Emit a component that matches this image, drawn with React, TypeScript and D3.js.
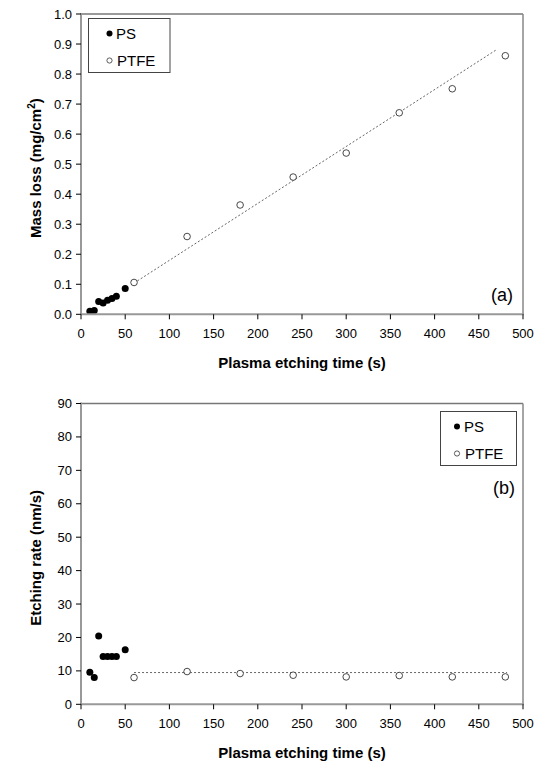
import React from "react";
import * as d3 from "d3";

const psTime = [10, 15, 20, 25, 30, 35, 40, 50];
const psMass = [0.010, 0.0125, 0.043, 0.038, 0.047, 0.053, 0.060, 0.086];
const psRate = [9.6, 8.0, 20.4, 14.3, 14.3, 14.3, 14.3, 16.3];

const ptfeTime = [60, 120, 180, 240, 300, 360, 420, 480];
const ptfeMass = [0.106, 0.259, 0.364, 0.457, 0.537, 0.671, 0.751, 0.861];
const ptfeRate = [8.0, 9.8, 9.2, 8.7, 8.2, 8.6, 8.2, 8.2];

const massFitTime = [60, 470];
const massFitValue = [0.104, 0.881];
const rateFitTime = [60, 482];
const rateFitValue = [9.5, 9.5];

const xTicks = d3.range(0, 501, 50);
const massTicks = d3.range(0, 11).map((i) => i / 10);
const rateTicks = d3.range(0, 91, 10);

const FONT = "'Liberation Sans', Arial, sans-serif";

type PanelProps = {
  top: number;
  bottom: number;
  yDomain: [number, number];
  yTicks: number[];
  yFormat: (v: number) => string;
  psY: number[];
  ptfeY: number[];
  fitX: number[];
  fitY: number[];
  yTitle: React.ReactNode;
  label: string;
  labelX: number;
  labelY: number;
  legend: { x: number; y: number; w: number; h: number; mx: number; tx: number };
};

const x = d3.scaleLinear().domain([0, 500]).range([81, 523]);

function Panel(p: PanelProps) {
  const y = d3.scaleLinear().domain(p.yDomain).range([p.bottom, p.top]);
  const line = d3
    .line<number>()
    .x((_, i) => x(p.fitX[i]))
    .y((d) => y(d));
  const [x0, x1] = x.range();
  const lg = p.legend;
  return (
    <g>
      <line x1={x0} x2={x1} y1={p.top} y2={p.top} stroke="#777" strokeWidth={1.3} />
      <line x1={x1} x2={x1} y1={p.top} y2={p.bottom} stroke="#888" strokeWidth={1.5} />
      <path d={line(p.fitY) || ""} fill="none" stroke="#666" strokeWidth={1} strokeDasharray="2,2" />
      {psTime.map((t, i) => (
        <circle key={"ps" + i} cx={x(t)} cy={y(p.psY[i])} r={3.5} fill="#000" />
      ))}
      {ptfeTime.map((t, i) => (
        <circle key={"pt" + i} cx={x(t)} cy={y(p.ptfeY[i])} r={3.3} fill="#fff" stroke="#333" strokeWidth={0.9} />
      ))}
      <line x1={x0} x2={x0} y1={p.top - 1} y2={p.bottom} stroke="#999" strokeWidth={2} />
      <line x1={x0} x2={x1 + 1} y1={p.bottom} y2={p.bottom} stroke="#999" strokeWidth={2} />
      {p.yTicks.map((t) => (
        <g key={"yt" + t}>
          <line x1={x0 - 5} x2={x0} y1={y(t)} y2={y(t)} stroke="#000" strokeWidth={1} />
          <text x={x0 - 9} y={y(t)} dy="0.35em" textAnchor="end" fontSize={13} fontFamily={FONT}>
            {p.yFormat(t)}
          </text>
        </g>
      ))}
      {xTicks.map((t) => (
        <g key={"xt" + t}>
          <line x1={x(t)} x2={x(t)} y1={p.bottom} y2={p.bottom + 5} stroke="#000" strokeWidth={1} />
          <text x={x(t)} y={p.bottom + 23.5} textAnchor="middle" fontSize={13} fontFamily={FONT}>
            {t}
          </text>
        </g>
      ))}
      <text
        x={(x0 + x1) / 2}
        y={p.bottom + 54}
        textAnchor="middle"
        fontSize={15}
        fontWeight="bold"
        fontFamily={FONT}
      >
        Plasma etching time (s)
      </text>
      <text
        transform={`translate(41,${(p.top + p.bottom) / 2 + 4}) rotate(-90)`}
        textAnchor="middle"
        fontSize={15}
        fontWeight="bold"
        fontFamily={FONT}
      >
        {p.yTitle}
      </text>
      <text x={p.labelX} y={p.labelY} textAnchor="end" fontSize={18} fontFamily={FONT}>
        {p.label}
      </text>
      <rect x={lg.x} y={lg.y} width={lg.w} height={lg.h} fill="#fff" stroke="#444" strokeWidth={1} />
      <circle cx={lg.mx} cy={lg.y + 15} r={3} fill="#000" />
      <text x={lg.tx - 1} y={lg.y + 15} dy="0.36em" fontSize={15} fontFamily={FONT}>
        PS
      </text>
      <circle cx={lg.mx} cy={lg.y + 42} r={2.6} fill="#fff" stroke="#333" strokeWidth={0.8} />
      <text x={lg.tx} y={lg.y + 42} dy="0.36em" fontSize={15} fontFamily={FONT}>
        PTFE
      </text>
    </g>
  );
}

export default function App() {
  return (
    <svg
      width={546}
      height={762}
      style={{ position: "absolute", left: 0, top: 0, background: "#fff" }}
    >
      <rect width={546} height={762} fill="#fff" />
      <Panel
        top={14}
        bottom={314.3}
        yDomain={[0, 1]}
        yTicks={massTicks}
        yFormat={d3.format(".1f")}
        psY={psMass}
        ptfeY={ptfeMass}
        fitX={massFitTime}
        fitY={massFitValue}
        yTitle={
          <>
            Mass loss (mg/cm
            <tspan fontSize={10} dy={-6}>
              2
            </tspan>
            <tspan dy={6}>)</tspan>
          </>
        }
        label="(a)"
        labelX={513}
        labelY={301}
        legend={{ x: 88.5, y: 18.5, w: 81.5, h: 54, mx: 109.5, tx: 117 }}
      />
      <Panel
        top={403.5}
        bottom={704.3}
        yDomain={[0, 90]}
        yTicks={rateTicks}
        yFormat={d3.format("d")}
        psY={psRate}
        ptfeY={ptfeRate}
        fitX={rateFitTime}
        fitY={rateFitValue}
        yTitle={<>Etching rate (nm/s)</>}
        label="(b)"
        labelX={515}
        labelY={494}
        legend={{ x: 440.5, y: 411.5, w: 76, h: 54, mx: 457, tx: 465 }}
      />
    </svg>
  );
}
